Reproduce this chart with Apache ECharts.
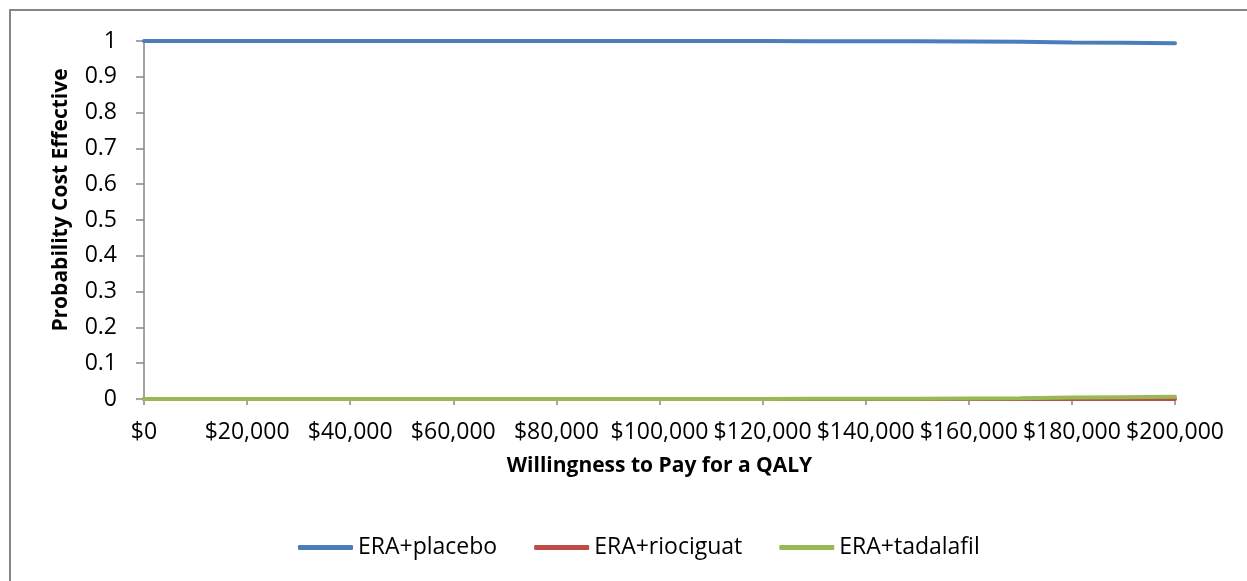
<!DOCTYPE html>
<html>
<head>
<meta charset="utf-8">
<script src="https://cdn.jsdelivr.net/npm/echarts@6/dist/echarts.min.js"></script>
<style>
html,body{margin:0;padding:0;background:#fff;}
#chart{width:1247px;height:581px;}
</style>
</head>
<body>
<div id="chart"></div>
<script>
// Willingness to pay (x values)
const wtp = [0,10000,20000,30000,40000,50000,60000,70000,80000,90000,100000,110000,120000,130000,140000,150000,160000,170000,180000,190000,200000];
const seriesNames = ['ERA+placebo','ERA+riociguat','ERA+tadalafil'];
const placebo   = [1,1,1,1,1,1,1,1,1,1,1,1,1,0.9995,0.999,0.999,0.9985,0.998,0.996,0.995,0.994];
const riociguat = [0,0,0,0,0,0,0,0,0,0,0,0,0,0,0,0,0,0,0,0,0];
const tadalafil = [0,0,0,0,0,0,0,0,0,0,0,0,0,0.0005,0.001,0.001,0.0015,0.002,0.004,0.005,0.006];
const xTitle = 'Willingness to Pay for a QALY';
const yTitle = 'Probability Cost Effective';

const colors = ['#4a7ebb','#be4b48','#98b954'];
const font = 'Open Sans';
const fs = 23;
const pair = (ys) => wtp.map((x,i)=>[x,ys[i]]);
const allSeries = [placebo, riociguat, tadalafil];

const chart = echarts.init(document.getElementById('chart'));
chart.setOption({
  animation:false,
  color: colors,
  graphic:[{type:'rect',shape:{x:10,y:10,width:1400,height:800},style:{fill:'none',stroke:'#868686',lineWidth:2},silent:true}],
  grid:{left:144,right:72,top:41,bottom:182,containLabel:false},
  legend:{
    left:293, top:531,
    itemWidth:55, itemHeight:5, itemGap:37,
    icon:'roundRect',
    textStyle:{fontFamily:font,fontSize:fs,color:'#000'},
    data: seriesNames
  },
  xAxis:{
    type:'value', min:0, max:200000, interval:20000,
    name:xTitle, nameLocation:'middle', nameGap:57,
    nameTextStyle:{fontFamily:font,fontSize:21,fontWeight:'bold',color:'#000'},
    axisLine:{lineStyle:{color:'#868686',width:1.5}},
    axisTick:{show:true,length:6,lineStyle:{color:'#868686',width:1.5}},
    splitLine:{show:false},
    axisLabel:{fontFamily:font,fontSize:fs,color:'#000',margin:22,
      formatter:(v)=>'$'+v.toLocaleString('en-US')}
  },
  yAxis:{
    type:'value', min:0, max:1, interval:0.1,
    name:yTitle, nameLocation:'middle', nameGap:72, nameRotate:90,
    nameTextStyle:{fontFamily:font,fontSize:21,fontWeight:'bold',color:'#000',padding:[0,0,0,40]},
    axisLine:{show:true,lineStyle:{color:'#868686',width:1.5}},
    axisTick:{show:true,length:8,lineStyle:{color:'#868686',width:1.5}},
    splitLine:{show:false},
    axisLabel:{fontFamily:font,fontSize:fs,color:'#000',margin:27,
      formatter:(v)=>String(Math.round(v*10)/10)}
  },
  series: seriesNames.map((n,i)=>({
    name:n, type:'line', data:pair(allSeries[i]),
    showSymbol:false, symbol:'none',
    lineStyle:{width:4,color:colors[i],cap:'round'},
    z: i+2
  }))
});
</script>
</body>
</html>
